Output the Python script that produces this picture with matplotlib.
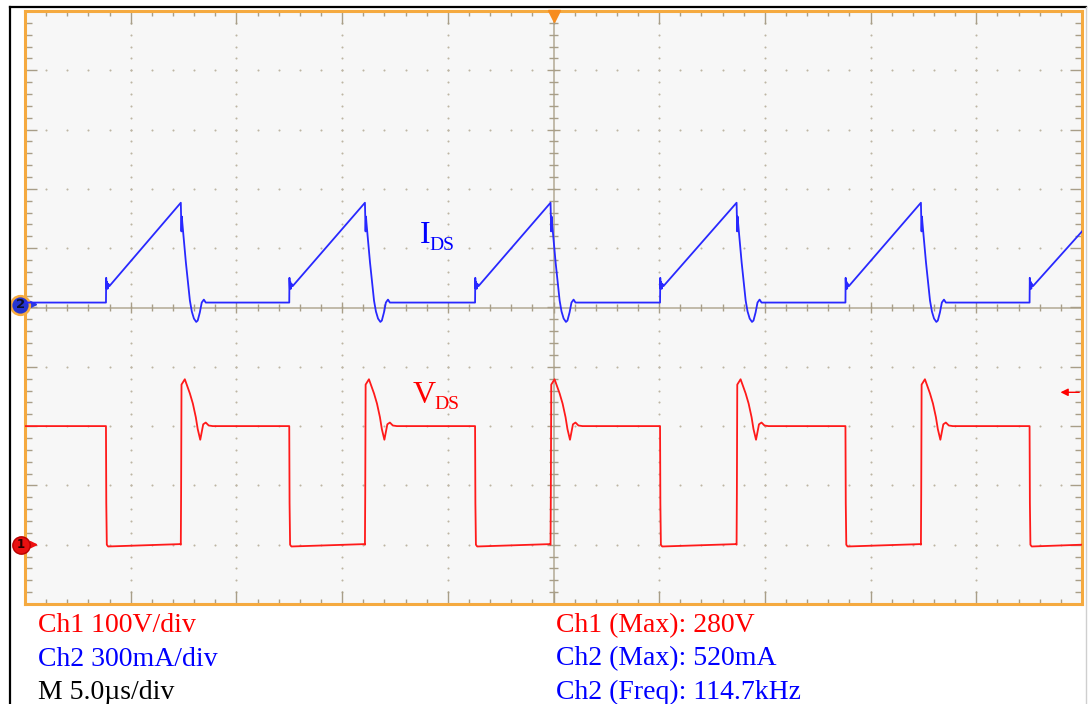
import numpy as np
import matplotlib.pyplot as plt
from matplotlib.lines import Line2D

W, H = 1088, 704
SERIF = ['Liberation Serif', 'DejaVu Serif']

# switching instants (us, 5 us/div, left edge = 0)
t_on = [3.83, 12.50, 21.29, 30.04, 38.81, 47.52]
t_off = [7.37, 16.08, 24.86, 33.66, 42.38]

# Ch2: drain current I_DS (mA), 300 mA/div, ground at centre line
i_base = 25
i_peak = 530
i_end = 385          # value where the last ramp leaves the screen
# (offset from turn-on in us, mA)
i_turn_on = [(0.0, 25), (0.01, 150), (0.03, 95), (0.05, 130), (0.08, 95), (0.11, 120), (0.16, 108)]
# (offset from turn-off in us, mA)
i_turn_off = [(0.0, 530), (0.03, 385), (0.05, 460), (0.07, 430), (0.24, 228),
              (0.43, 35), (0.52, -20), (0.62, -56), (0.73, -73), (0.80, -66),
              (0.90, -25), (0.99, 25), (1.09, 40), (1.18, 25)]

# Ch1: drain voltage V_DS (V), 100 V/div, ground 4 div below centre
v_high = 200
v_low_end = 1
v_turn_on = [(0.0, 200), (0.015, 70), (0.04, 0), (0.10, -3)]
v_turn_off = [(0.0, 0), (0.014, 85), (0.033, 270), (0.19, 279), (0.28, 270),
              (0.43, 255), (0.57, 238), (0.71, 215), (0.80, 195), (0.92, 177),
              (0.99, 190), (1.06, 203), (1.18, 206), (1.32, 201), (1.51, 200)]

readouts_left = [('Ch1 100V/div', 'red'), ('Ch2 300mA/div', 'blue'), ('M 5.0\u00b5s/div', 'black')]
readouts_right = [('Ch1 (Max): 280V', 'red'), ('Ch2 (Max): 520mA', 'blue'),
                  ('Ch2 (Freq): 114.7kHz', 'blue')]


def current_trace():
    t, y = [0.0], [i_base]
    for k, on in enumerate(t_on):
        for dt, v in i_turn_on:
            t.append(on + dt); y.append(v)
        if k < len(t_off):
            for dt, v in i_turn_off:
                t.append(t_off[k] + dt); y.append(v)
    t.append(50.0); y.append(i_end)
    return t, y


def voltage_trace():
    t, y = [0.0], [v_high]
    for k, on in enumerate(t_on):
        for dt, v in v_turn_on:
            t.append(on + dt); y.append(v)
        if k < len(t_off):
            t.append(t_off[k] - 0.02); y.append(v_low_end)
            for dt, v in v_turn_off:
                t.append(t_off[k] + dt); y.append(v)
    t.append(50.0); y.append(0)
    return t, y


fig = plt.figure(figsize=(W / 100, H / 100), dpi=100)
rect = [25 / W, 100 / H, 1057 / W, 593 / H]

# graticule in divisions
ax = fig.add_axes(rect, label='grid')
ax.set_xlim(0, 10)
ax.set_ylim(-5, 5)
ax.set_facecolor('#f7f7f7')
ax.set_xticks([]); ax.set_yticks([])
for s in ax.spines.values():
    s.set_color('#f5aa40')
    s.set_linewidth(2.2)

dot_c = '#bdb5a3'
tick_c = '#a89e88'
mx = np.arange(0, 10.001, 0.2)
my = np.arange(-5, 5.001, 0.2)
for gx in [1, 2, 3, 4, 6, 7, 8, 9]:
    ax.scatter(np.full(len(my) - 2, gx), my[1:-1], s=2.2, color=dot_c, lw=0, zorder=1)
for gy in [-4, -3, -2, -1, 1, 2, 3, 4]:
    ax.scatter(mx[1:-1], np.full(len(mx) - 2, gy), s=2.2, color=dot_c, lw=0, zorder=1)

ax.axhline(0, color='#b3aa94', lw=1.1, zorder=1)
ax.axvline(5, color='#b3aa94', lw=1.1, zorder=1)

for x in mx[1:-1]:
    major = abs(x - round(x)) < 1e-6
    L = 0.22 if major else 0.085
    ax.vlines(x, 5 - L, 5, color=tick_c, lw=1.0, zorder=1)
    ax.vlines(x, -5, -5 + L, color=tick_c, lw=1.0, zorder=1)
    c = 0.093 if major else 0.067
    ax.vlines(x, -c, c, color=tick_c, lw=1.0, zorder=1)
for y in my[1:-1]:
    major = abs(y - round(y)) < 1e-6
    L = 0.115 if major else 0.066
    ax.hlines(y, 0, L, color=tick_c, lw=1.0, zorder=1)
    ax.hlines(y, 10 - L, 10, color=tick_c, lw=1.0, zorder=1)
    c = 0.062 if major else 0.043
    ax.hlines(y, 5 - c, 5 + c, color=tick_c, lw=1.0, zorder=1)

# trigger position and level markers
ax.plot(5, 4.92, marker='v', ms=8.5, color='#f78c1e', mec='#f78c1e', clip_on=False, zorder=6)
ax.annotate('', xy=(9.77, -1.43), xytext=(10.0, -1.43),
            arrowprops=dict(arrowstyle='-|>', color='red', lw=1.0, mutation_scale=11),
            zorder=6)

# channel ground markers
ax.annotate('', xy=(0.15, 0.05), xytext=(0.03, 0.05),
            arrowprops=dict(arrowstyle='-|>', color='#2a3ae0', lw=1.4, mutation_scale=10),
            zorder=7, annotation_clip=False)
ax.plot(-0.045, 0.05, marker='o', ms=13.5, color='#2535d0', mec='#f5aa40', mew=1.8,
        clip_on=False, zorder=8)
ax.text(-0.045, 0.05, '2', ha='center', va='center', fontsize=9.5, fontweight='bold',
        color='#10102a', zorder=9, clip_on=False)

ax.annotate('', xy=(0.15, -4.0), xytext=(0.03, -4.0),
            arrowprops=dict(arrowstyle='-|>', color='#ee1010', lw=1.4, mutation_scale=10),
            zorder=7, annotation_clip=False)
ax.plot(-0.04, -4.0, marker='o', ms=12.5, color='#e81010', mec='#b80000', mew=1.0,
        clip_on=False, zorder=8)
ax.text(-0.04, -4.0, '1', ha='center', va='center', fontsize=8.5, fontweight='bold',
        color='#2a0000', zorder=9, clip_on=False)

# Ch2 current
ax_i = fig.add_axes(rect, label='ch2', frameon=False)
ax_i.set_xlim(0, 50)
ax_i.set_ylim(-1500, 1500)
ax_i.axis('off')
ti, yi = current_trace()
ax_i.plot(ti, yi, color='#2828ff', lw=1.3)

# Ch1 voltage
ax_v = fig.add_axes(rect, label='ch1', frameon=False)
ax_v.set_xlim(0, 50)
ax_v.set_ylim(-100, 900)
ax_v.axis('off')
tv, yv = voltage_trace()
ax_v.plot(tv, yv, color='#ff1a1a', lw=1.3)

# trace labels
fig.text(420 / W, 1 - 243 / H, 'I', color='blue', fontsize=23, family=SERIF, va='baseline')
fig.text(429 / W, 1 - 250 / H, 'DS', color='blue', fontsize=14, family=SERIF, va='baseline')
fig.text(413 / W, 1 - 403 / H, 'V', color='red', fontsize=23, family=SERIF, va='baseline')
fig.text(434 / W, 1 - 409 / H, 'DS', color='red', fontsize=14, family=SERIF, va='baseline')

# readouts
for k, (s, c) in enumerate(readouts_left):
    fig.text(38 / W, 1 - (632 + 33.5 * k) / H, s, color=c, fontsize=20, family=SERIF, va='baseline')
for k, (s, c) in enumerate(readouts_right):
    fig.text(556 / W, 1 - (632 + 33.5 * k) / H, s, color=c, fontsize=20, family=SERIF, va='baseline')

# page frame around the screenshot
fig.add_artist(Line2D([10 / W, 10 / W], [0, 1 - 7 / H], transform=fig.transFigure, color='black', lw=1.6))
fig.add_artist(Line2D([10 / W, 1086 / W], [1 - 7 / H, 1 - 7 / H], transform=fig.transFigure, color='black', lw=1.6))
fig.add_artist(Line2D([1086 / W, 1086 / W], [0, 1 - 7 / H], transform=fig.transFigure, color='#cfcfcf', lw=1.0))

fig.savefig('out.png', dpi=100)
